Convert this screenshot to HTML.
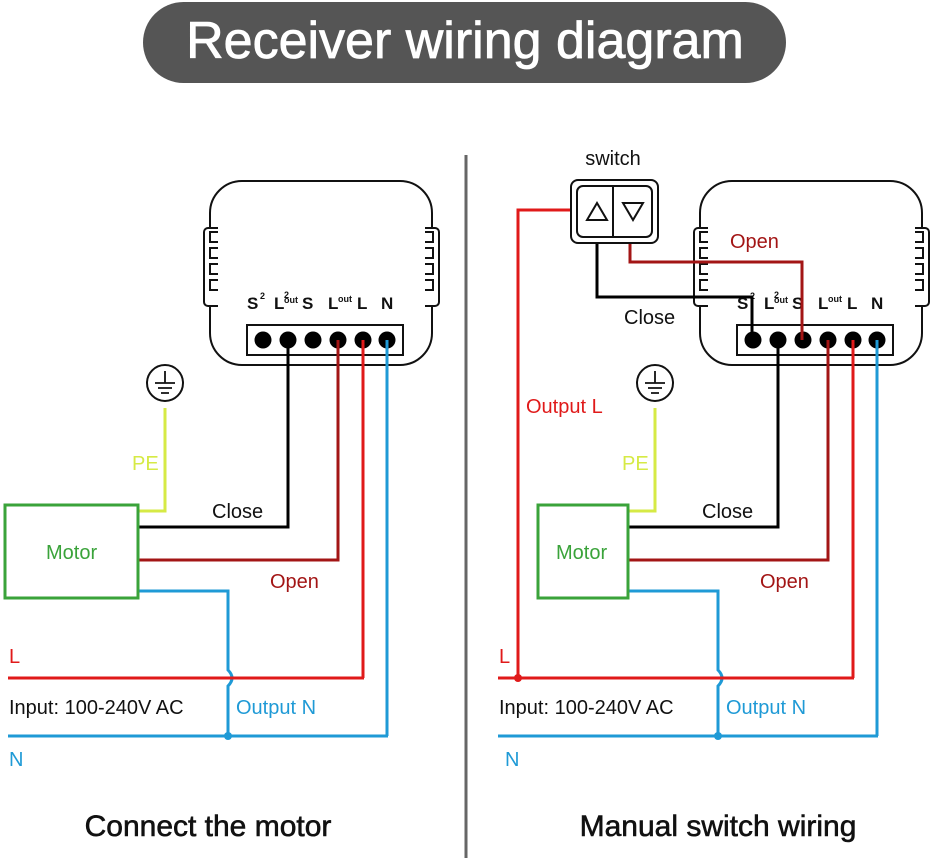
<!DOCTYPE html>
<html><head><meta charset="utf-8"><style>
html,body{margin:0;padding:0;background:#fff;}
svg{display:block;font-family:"Liberation Sans",Arial,sans-serif;}
</style></head><body>
<svg width="934" height="858" viewBox="0 0 934 858" xmlns="http://www.w3.org/2000/svg">
<defs>
<g id="dev">
  <rect x="210" y="181" width="222" height="184" rx="32" fill="#fff" stroke="#111" stroke-width="2"/>
  <path d="M218,228 h-10 a4,4 0 0 0 -4,4 v70 a4,4 0 0 0 4,4 h10 M218,232 h-8 v10 h8 M218,248 h-8 v10 h8 M218,264 h-8 v10 h8 M218,280 h-8 v10 h8" fill="#fff" stroke="#111" stroke-width="2"/>
  <path d="M425,228 h10 a4,4 0 0 1 4,4 v70 a4,4 0 0 1 -4,4 h-10 M425,232 h8 v10 h-8 M425,248 h8 v10 h-8 M425,264 h8 v10 h-8 M425,280 h8 v10 h-8" fill="#fff" stroke="#111" stroke-width="2"/>
  <rect x="247" y="325" width="156" height="30" fill="#fff" stroke="#111" stroke-width="2"/>
  <g fill="#000"><circle cx="263" cy="340" r="8.5"/><circle cx="288" cy="340" r="8.5"/><circle cx="313" cy="340" r="8.5"/><circle cx="338" cy="340" r="8.5"/><circle cx="363" cy="340" r="8.5"/><circle cx="387" cy="340" r="8.5"/></g>
  <g font-weight="bold" font-size="17" fill="#111">
    <text x="247" y="309">S</text><text x="260" y="299" font-size="9">2</text>
    <text x="274" y="309">L</text><text x="284" y="298" font-size="9">2</text><text x="284" y="303" font-size="9">out</text>
    <text x="302" y="309">S</text>
    <text x="328" y="309">L</text><text x="338" y="302" font-size="9">out</text>
    <text x="357" y="309">L</text>
    <text x="381" y="309">N</text>
  </g>
  <circle cx="165" cy="383" r="18" fill="#fff" stroke="#111" stroke-width="2"/>
  <path d="M165,371 v12 M155,383 h20 M158,388 h14 M161,393 h8" stroke="#111" stroke-width="1.8"/>
  <polyline points="165,408 165,511 138,511" fill="none" stroke="#d6ea45" stroke-width="3"/>
  <text x="132" y="470" font-size="20" fill="#d6ea45">PE</text>
  <polyline points="138,527 288,527 288,340" fill="none" stroke="#000" stroke-width="3"/>
  <polyline points="138,560 338,560 338,340" fill="none" stroke="#a31515" stroke-width="3"/>
  <path d="M138,591 H228 V670 q8,8 0,16 V736" fill="none" stroke="#1f9ad6" stroke-width="3"/>
  <polyline points="363,340 363,678" fill="none" stroke="#e01a1a" stroke-width="3"/>
  <polyline points="387,340 387,736" fill="none" stroke="#1f9ad6" stroke-width="3"/>
  <circle cx="228" cy="736" r="4" fill="#1f9ad6"/>
  <text x="212" y="518" font-size="20" fill="#111">Close</text>
  <text x="270" y="588" font-size="20" fill="#a31515">Open</text>
  <text x="236" y="714" font-size="20" fill="#1f9ad6">Output N</text>
</g>
</defs>
<rect x="143" y="2" width="643" height="81" rx="40.5" fill="#555"/>
<text x="465" y="58" text-anchor="middle" font-size="52" fill="#fff" stroke="#fff" stroke-width="0.8">Receiver wiring diagram</text>
<line x1="466" y1="155" x2="466" y2="858" stroke="#666" stroke-width="3"/>

<use href="#dev"/>
<rect x="5" y="505" width="133" height="93" fill="#fff" stroke="#3aa33a" stroke-width="3"/>
<text x="46" y="559" font-size="20" fill="#3aa33a">Motor</text>
<line x1="8" y1="678" x2="364" y2="678" stroke="#e01a1a" stroke-width="3"/>
<line x1="8" y1="736" x2="388" y2="736" stroke="#1f9ad6" stroke-width="3"/>
<text x="9" y="663" font-size="20" fill="#e01a1a">L</text>
<text x="9" y="714" font-size="20" fill="#111">Input: 100-240V AC</text>
<text x="9" y="766" font-size="20" fill="#1f9ad6">N</text>
<text x="208" y="836" text-anchor="middle" font-size="30" fill="#111" stroke="#111" stroke-width="0.6">Connect the motor</text>

<g transform="translate(490,0)"><use href="#dev"/></g>
<rect x="538" y="505" width="90" height="93" fill="#fff" stroke="#3aa33a" stroke-width="3"/>
<text x="556" y="559" font-size="20" fill="#3aa33a">Motor</text>
<line x1="498" y1="678" x2="854" y2="678" stroke="#e01a1a" stroke-width="3"/>
<line x1="498" y1="736" x2="878" y2="736" stroke="#1f9ad6" stroke-width="3"/>
<polyline points="518,678 518,210 572,210" fill="none" stroke="#e01a1a" stroke-width="3"/>
<circle cx="518" cy="678" r="4" fill="#e01a1a"/>
<polyline points="597,240 597,297 752,297 752,340" fill="none" stroke="#000" stroke-width="3"/>
<polyline points="630,240 630,262 802,262 802,340" fill="none" stroke="#a31515" stroke-width="3"/>
<rect x="571" y="180" width="87" height="63" rx="7" fill="#fff" stroke="#111" stroke-width="2"/>
<rect x="577" y="186" width="75" height="51" rx="6" fill="#fff" stroke="#111" stroke-width="2"/>
<line x1="613" y1="186" x2="613" y2="237" stroke="#111" stroke-width="2"/>
<path d="M587,220 L597,203 L607,220 Z" fill="none" stroke="#111" stroke-width="2"/>
<path d="M623,203 L643,203 L633,220 Z" fill="none" stroke="#111" stroke-width="2"/>
<text x="613" y="165" text-anchor="middle" font-size="20" fill="#111">switch</text>
<text x="730" y="248" font-size="20" fill="#a31515">Open</text>
<text x="624" y="324" font-size="20" fill="#111">Close</text>
<text x="526" y="413" font-size="20" fill="#e01a1a">Output L</text>
<text x="499" y="663" font-size="20" fill="#e01a1a">L</text>
<text x="499" y="714" font-size="20" fill="#111">Input: 100-240V AC</text>
<text x="505" y="766" font-size="20" fill="#1f9ad6">N</text>
<text x="718" y="836" text-anchor="middle" font-size="30" fill="#111" stroke="#111" stroke-width="0.6">Manual switch wiring</text>
</svg>
</body></html>
